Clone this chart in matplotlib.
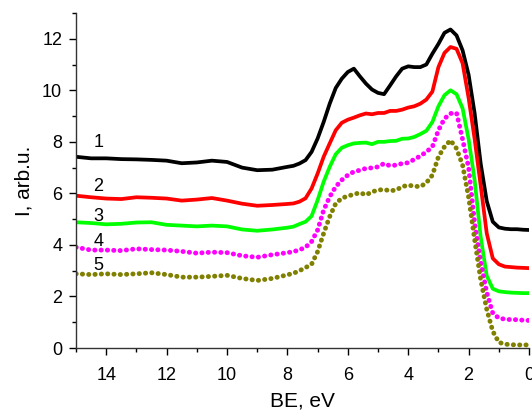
import matplotlib
matplotlib.use("Agg")
import matplotlib.pyplot as plt
from matplotlib.ticker import MultipleLocator

plt.rcParams['font.family'] = ['Liberation Sans', 'DejaVu Sans']

# binding energy grid, eV
be = [15.0, 14.5, 14.0, 13.5, 13.0, 12.5, 12.0, 11.5, 11.0, 10.5, 10.0, 9.5, 9.0, 8.5,
      8.0, 7.8, 7.6, 7.4, 7.2, 7.0, 6.8, 6.6, 6.4, 6.2, 6.0,
      5.8, 5.6, 5.4, 5.2, 5.0, 4.8, 4.6, 4.4, 4.2, 4.0,
      3.8, 3.6, 3.4, 3.2, 3.0, 2.8, 2.6, 2.4, 2.2, 2.0,
      1.8, 1.6, 1.4, 1.2, 1.0, 0.8, 0.6, 0.4, 0.2, 0.0]

curve1 = [7.42, 7.36, 7.36, 7.33, 7.32, 7.30, 7.27, 7.17, 7.20, 7.27, 7.22, 7.00, 6.90, 6.92,
          7.03, 7.07, 7.16, 7.29, 7.61, 8.13, 8.77, 9.48, 10.09, 10.45, 10.71,
          10.84, 10.54, 10.26, 10.03, 9.90, 9.85, 10.19, 10.54, 10.84, 10.93,
          10.90, 10.90, 11.00, 11.42, 11.80, 12.23, 12.36, 12.13, 11.55, 10.60,
          9.10, 7.15, 5.70, 4.90, 4.68, 4.63, 4.61, 4.61, 4.59, 4.58]

curve2 = [5.91, 5.85, 5.80, 5.78, 5.85, 5.83, 5.80, 5.72, 5.76, 5.82, 5.72, 5.60, 5.52, 5.55,
          5.59, 5.61, 5.68, 5.81, 6.19, 6.77, 7.42, 7.94, 8.45, 8.74, 8.86,
          8.94, 9.03, 9.10, 9.07, 9.12, 9.12, 9.20, 9.20, 9.25, 9.33,
          9.38, 9.48, 9.64, 9.95, 10.90, 11.45, 11.68, 11.61, 11.05, 9.70,
          8.10, 6.30, 4.45, 3.48, 3.25, 3.16, 3.14, 3.12, 3.11, 3.10]

curve3 = [4.88, 4.85, 4.80, 4.82, 4.87, 4.88, 4.78, 4.75, 4.72, 4.75, 4.72, 4.60, 4.55, 4.60,
          4.67, 4.71, 4.81, 4.90, 5.12, 5.74, 6.45, 7.03, 7.52, 7.77, 7.87,
          7.94, 7.96, 7.97, 7.91, 8.00, 8.00, 8.03, 8.04, 8.12, 8.13,
          8.19, 8.30, 8.43, 8.77, 9.38, 9.81, 10.00, 9.85, 9.30, 8.10,
          6.50, 4.30, 2.80, 2.30, 2.20, 2.17, 2.15, 2.14, 2.13, 2.13]

curve4 = [3.91, 3.80, 3.80, 3.78, 3.85, 3.82, 3.80, 3.75, 3.68, 3.72, 3.70, 3.58, 3.52, 3.62,
          3.70, 3.74, 3.81, 3.91, 4.13, 4.58, 5.35, 5.87, 6.26, 6.52, 6.71,
          6.84, 6.90, 6.97, 6.99, 7.03, 7.16, 7.07, 7.10, 7.16, 7.19,
          7.32, 7.45, 7.61, 7.81, 8.45, 8.90, 9.10, 9.12, 8.10, 7.00,
          4.85, 3.35, 2.15, 1.35, 1.16, 1.12, 1.10, 1.10, 1.08, 1.07]

curve5 = [2.88, 2.85, 2.88, 2.85, 2.88, 2.92, 2.85, 2.75, 2.75, 2.78, 2.82, 2.70, 2.62, 2.70,
          2.84, 2.90, 3.00, 3.12, 3.25, 3.74, 4.45, 5.10, 5.61, 5.81, 5.90,
          5.96, 6.03, 5.94, 6.06, 6.13, 6.15, 6.10, 6.13, 6.26, 6.32,
          6.28, 6.26, 6.41, 6.71, 7.42, 7.81, 8.06, 7.74, 7.10, 5.85,
          4.20, 2.65, 1.50, 0.65, 0.22, 0.15, 0.13, 0.12, 0.12, 0.12]

labels = ['1', '2', '3', '4', '5']
colors = ['#000000', '#ff0000', '#00ff00', '#ff00ff', '#808000']

fig = plt.figure(figsize=(5.32, 4.15), dpi=100)
ax = fig.add_axes([0.1429, 0.1614, 0.8515, 0.8073])

# solid curves
for y, c in zip([curve1, curve2, curve3], colors[:3]):
    ax.plot(be, y, color=c, lw=2.7, solid_joinstyle='round')
# dotted curves
for y, c in zip([curve4, curve5], colors[3:]):
    ax.plot(be, y, color=c, lw=3.5, linestyle=(0, (0.05, 1.25)),
            dash_capstyle='round')

# curve numbers
for lab, yy in zip(labels, [7.96, 6.26, 5.10, 4.13, 3.19]):
    ax.text(14.26, yy, lab, fontsize=13, ha='center', va='center')

ax.set_xlim(15, 0)
ax.set_ylim(0, 13)
ax.xaxis.set_major_locator(MultipleLocator(2))
ax.xaxis.set_minor_locator(MultipleLocator(1))
ax.yaxis.set_major_locator(MultipleLocator(2))
ax.yaxis.set_minor_locator(MultipleLocator(1))
ax.tick_params(which='major', direction='out', length=5, width=1, labelsize=13)
ax.tick_params(which='minor', direction='out', length=3, width=1)
ax.tick_params(axis='x', which='major', pad=9)
ax.tick_params(axis='y', which='major', pad=5)

ax.spines['top'].set_visible(False)
ax.spines['right'].set_visible(False)
for s in ['left', 'bottom']:
    ax.spines[s].set_linewidth(1)
    ax.spines[s].set_color('#333333')

ax.set_xlabel('BE, eV', fontsize=15, labelpad=5)
ax.set_ylabel('I, arb.u.', fontsize=15, labelpad=6)

fig.savefig('out.png', dpi=100)
